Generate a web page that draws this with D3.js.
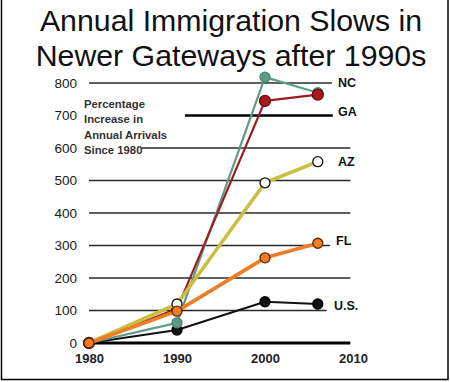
<!DOCTYPE html>
<html><head><meta charset="utf-8">
<script src="https://cdn.jsdelivr.net/npm/d3@7"></script>
<style>body{margin:0;background:#fff}svg{display:block}</style>
</head><body>
<script>
const years = [1980, 1990, 2000, 2006];
const seriesNames = ["U.S.", "NC", "GA", "AZ", "FL"];
const usValues = [0, 40, 127, 120];
const flValues = [0, 98, 262, 307];
const azValues = [0, 120, 493, 558];
const gaValues = [0, 105, 745, 764];
const ncValues = [0, 62, 818, 770];
const yTicks = [0, 100, 200, 300, 400, 500, 600, 700, 800];
const xTicks = [1980, 1990, 2000, 2010];
const titleLines = ["Annual Immigration Slows in", "Newer Gateways after 1990s"];
const noteLines = ["Percentage", "Increase in", "Annual Arrivals", "Since 1980"];

const W = 450, H = 382;
const svg = d3.select("body").append("svg").attr("width", W).attr("height", H);
const x = d3.scaleLinear().domain([1980, 2010]).range([89, 353]);
const y = d3.scaleLinear().domain([0, 800]).range([343, 83]);
const FONT = "Liberation Sans, Arial, sans-serif";

// frame
svg.append("rect").attr("x", 1.5).attr("y", -3).attr("width", 446.5).attr("height", 382.5)
  .attr("fill", "none").attr("stroke", "#000").attr("stroke-width", 1.5);

// title
svg.append("g").selectAll("text").data(titleLines).join("text")
  .attr("x", 231).attr("y", (d, i) => 31 + i * 35)
  .attr("text-anchor", "middle")
  .attr("font-family", FONT)
  .attr("font-size", 30.3).attr("fill", "#111").text(d => d);

// gridline extents (style, in year units)
const gridExtent = {0:[1980,2009.7],100:[1980,2007],200:[1980,2009.7],300:[1980,2007.4],
  400:[1980,2009.7],500:[1980,2009.7],600:[1986,2009.7],700:[1990.9,2007.7],800:[1980,2007.6]};
const gridWidth = v => v === 0 ? 3.2 : (v === 700 ? 2.6 : 1.6);
svg.append("g").selectAll("line").data(yTicks).join("line")
  .attr("x1", d => x(gridExtent[d][0])).attr("x2", d => x(gridExtent[d][1]))
  .attr("y1", d => y(d)).attr("y2", d => y(d))
  .attr("stroke", d => (d === 0 || d === 700) ? "#000" : "#2a2a2a")
  .attr("stroke-width", gridWidth);

// y axis labels
const yAxis = d3.axisLeft(y).tickValues(yTicks).tickSize(0).tickPadding(0);
const gy = svg.append("g").attr("transform", "translate(77,0)").call(yAxis);
gy.select(".domain").remove();
gy.selectAll("text").attr("font-family", FONT)
  .attr("font-size", 13.5).attr("fill", "#1a1a1a");

// x axis labels
const xAxis = d3.axisBottom(x).tickValues(xTicks).tickFormat(d3.format("d")).tickSize(0).tickPadding(0);
const gx = svg.append("g").attr("transform", "translate(0,354)").call(xAxis);
gx.select(".domain").remove();
gx.selectAll("text").attr("font-family", FONT)
  .attr("font-size", 13).attr("font-weight", "bold").attr("fill", "#222");

// note
svg.append("g").selectAll("text").data(noteLines).join("text")
  .attr("x", 84).attr("y", (d, i) => 108 + i * 15.3)
  .attr("font-family", FONT)
  .attr("font-size", 11.3).attr("font-weight", "bold").attr("fill", "#333").text(d => d);

const style = {
  "U.S.": {vals: usValues, line: "#111", lw: 2, fill: "#111", stroke: "#000", r: 5, lx: 334, ly: 306},
  "FL": {vals: flValues, line: "#f07d26", lw: 3.6, fill: "#f07d26", stroke: "#5a2a00", r: 5, lx: 336, ly: 241},
  "AZ": {vals: azValues, line: "#c9be3f", lw: 3.6, fill: "#fff", stroke: "#111", r: 5, lx: 338, ly: 162},
  "GA": {vals: gaValues, line: "#9e1a1c", lw: 2.2, fill: "#a8181c", stroke: "#6a0a0c", r: 5.5, lx: 338, ly: 112},
  "NC": {vals: ncValues, line: "#5e9c89", lw: 2.2, fill: "#5e9c89", stroke: "#4a8573", r: 5, lx: 338, ly: 83}
};
const line = d3.line().x((d, i) => x(years[i])).y(d => y(d));
seriesNames.forEach(name => {
  const s = style[name];
  const g = svg.append("g");
  g.append("path").attr("d", line(s.vals)).attr("fill", "none")
    .attr("stroke", s.line).attr("stroke-width", s.lw).attr("stroke-linejoin", "round");
  g.selectAll("circle").data(s.vals).join("circle")
    .attr("cx", (d, i) => x(years[i])).attr("cy", d => y(d)).attr("r", s.r)
    .attr("fill", s.fill).attr("stroke", s.stroke).attr("stroke-width", 1.3);
  svg.append("text").attr("x", s.lx).attr("y", s.ly).attr("dy", "0.35em")
    .attr("font-family", FONT)
    .attr("font-size", 12.5).attr("font-weight", "bold").attr("fill", "#111").text(name);
});
</script>
</body></html>
